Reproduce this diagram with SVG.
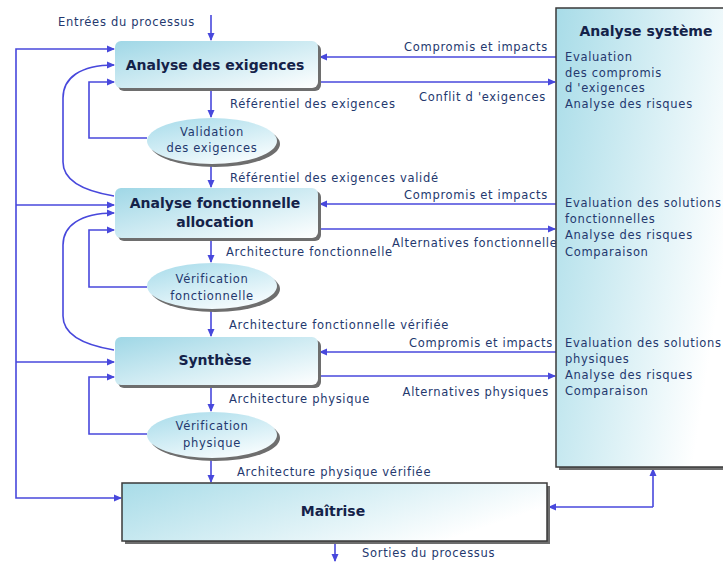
<svg xmlns="http://www.w3.org/2000/svg" width="723" height="562" viewBox="0 0 723 562">
<style>
.t{font-family:"DejaVu Sans","Liberation Sans",sans-serif;font-size:11.5px;letter-spacing:0.7px;fill:#24386e}
.h{font-family:"DejaVu Sans","Liberation Sans",sans-serif;font-size:14px;font-weight:bold;fill:#142249}
.c{fill:none;stroke:#4848dc;stroke-width:1.6}
.box{fill:url(#gb)}
.sh{fill:#6e6e6e}
</style>
<defs>
<linearGradient id="gb" x1="0" y1="0" x2="1" y2="1">
<stop offset="0" stop-color="#9fd7e6"/>
<stop offset="1" stop-color="#ffffff"/>
</linearGradient>
<linearGradient id="ge" x1="0" y1="0" x2="0.6" y2="1">
<stop offset="0" stop-color="#a6dbea"/>
<stop offset="1" stop-color="#f4fbfd"/>
</linearGradient>
<linearGradient id="gs" x1="0" y1="0" x2="1" y2="0.4">
<stop offset="0" stop-color="#a8dce8"/>
<stop offset="1" stop-color="#ffffff"/>
</linearGradient>
<marker id="a" markerWidth="8" markerHeight="8" refX="7" refY="4" orient="auto" markerUnits="userSpaceOnUse">
<path d="M0,0.5 L8,4 L0,7.5 Z" fill="#4848dc"/>
</marker>
</defs>

<g id="connectors">
<path class="c" d="M211,15 V40" marker-end="url(#a)"/>
<path class="c" d="M211,89 V117" marker-end="url(#a)"/>
<path class="c" d="M211,164 V187" marker-end="url(#a)"/>
<path class="c" d="M211,239 V262" marker-end="url(#a)"/>
<path class="c" d="M211,310 V336" marker-end="url(#a)"/>
<path class="c" d="M211,386 V411" marker-end="url(#a)"/>
<path class="c" d="M211,458 V482" marker-end="url(#a)"/>
<path class="c" d="M335,542 V561" marker-end="url(#a)"/>
<path class="c" d="M147,138 H89 V82 H114" marker-end="url(#a)"/>
<path class="c" d="M147,287 H89 V230 H114" marker-end="url(#a)"/>
<path class="c" d="M147,434 H89 V377 H114" marker-end="url(#a)"/>
<path class="c" d="M16,300 V49 H114" marker-end="url(#a)"/>
<path class="c" d="M16,300 V498 H121" marker-end="url(#a)"/>
<path class="c" d="M16,205 H114" marker-end="url(#a)"/>
<path class="c" d="M16,362 H114" marker-end="url(#a)"/>
<path class="c" d="M114,196 C78,190 63,178 63,162 V98 C63,78 80,65 114,65" marker-end="url(#a)"/>
<path class="c" d="M114,350 C78,344 63,332 63,316 V245 C63,226 80,213 114,213" marker-end="url(#a)"/>
<path class="c" d="M556,57 H320" marker-end="url(#a)"/>
<path class="c" d="M319,82 H555" marker-end="url(#a)"/>
<path class="c" d="M556,204 H320" marker-end="url(#a)"/>
<path class="c" d="M319,229 H555" marker-end="url(#a)"/>
<path class="c" d="M556,352 H320" marker-end="url(#a)"/>
<path class="c" d="M319,376 H555" marker-end="url(#a)"/>
<path class="c" d="M653,507 V469" marker-end="url(#a)"/>
<path class="c" d="M653,507 H549" marker-end="url(#a)"/>
</g>

<g id="labels">
<text class="t" x="58" y="26">Entrées du processus</text>
<text class="t" x="230" y="108">Référentiel des exigences</text>
<text class="t" x="230" y="182">Référentiel des exigences validé</text>
<text class="t" x="226" y="256">Architecture fonctionnelle</text>
<text class="t" x="229" y="329">Architecture fonctionnelle vérifiée</text>
<text class="t" x="229" y="403">Architecture physique</text>
<text class="t" x="237" y="476">Architecture physique vérifiée</text>
<text class="t" x="362" y="557">Sorties du processus</text>
<text class="t" x="548" y="51" text-anchor="end">Compromis et impacts</text>
<text class="t" x="546" y="101" text-anchor="end">Conflit d 'exigences</text>
<text class="t" x="548" y="199" text-anchor="end">Compromis et impacts</text>
<text class="t" x="392" y="247">Alternatives fonctionnelles</text>
<text class="t" x="553" y="347" text-anchor="end">Compromis et impacts</text>
<text class="t" x="549" y="396" text-anchor="end">Alternatives physiques</text>
</g>

<g id="analyse-exigences">
<rect class="sh" x="118" y="44" width="203" height="47" rx="6"/>
<rect class="box" x="115" y="41" width="203" height="47" rx="6"/>
<text class="h" x="215" y="70" text-anchor="middle">Analyse des exigences</text>
</g>

<g id="validation">
<ellipse cx="215" cy="144" rx="65" ry="23" fill="#6e6e6e"/>
<ellipse cx="212" cy="141" rx="65" ry="23" fill="url(#ge)"/>
<text class="t" x="212" y="136" text-anchor="middle">Validation</text>
<text class="t" x="212" y="152" text-anchor="middle">des exigences</text>
</g>

<g id="analyse-fonctionnelle">
<rect class="sh" x="118" y="191" width="203" height="50" rx="6"/>
<rect class="box" x="115" y="188" width="203" height="50" rx="6"/>
<text class="h" x="215" y="208" text-anchor="middle">Analyse fonctionnelle</text>
<text class="h" x="215" y="227" text-anchor="middle">allocation</text>
</g>

<g id="verification-fonctionnelle">
<ellipse cx="215" cy="289" rx="65" ry="23" fill="#6e6e6e"/>
<ellipse cx="212" cy="286" rx="65" ry="23" fill="url(#ge)"/>
<text class="t" x="212" y="283" text-anchor="middle">Vérification</text>
<text class="t" x="212" y="300" text-anchor="middle">fonctionnelle</text>
</g>

<g id="synthese">
<rect class="sh" x="118" y="340" width="203" height="48" rx="6"/>
<rect class="box" x="115" y="337" width="203" height="48" rx="6"/>
<text class="h" x="215" y="365" text-anchor="middle">Synthèse</text>
</g>

<g id="verification-physique">
<ellipse cx="215" cy="438" rx="65" ry="23" fill="#6e6e6e"/>
<ellipse cx="212" cy="435" rx="65" ry="23" fill="url(#ge)"/>
<text class="t" x="212" y="430" text-anchor="middle">Vérification</text>
<text class="t" x="212" y="447" text-anchor="middle">physique</text>
</g>

<g id="maitrise">
<rect class="sh" x="125" y="486" width="425" height="58"/>
<rect x="122" y="483" width="425" height="58" fill="url(#gs)" stroke="#3a3a3a" stroke-width="1.5"/>
<text class="h" x="333" y="516" text-anchor="middle">Maîtrise</text>
</g>

<g id="analyse-systeme">
<rect class="sh" x="559" y="11" width="180" height="459"/>
<rect x="556" y="8" width="180" height="459" fill="url(#gs)" stroke="#3a3a3a" stroke-width="1.5"/>
<text class="h" x="646" y="36" text-anchor="middle">Analyse système</text>
<text class="t" x="565" y="61">Evaluation</text>
<text class="t" x="565" y="77">des compromis</text>
<text class="t" x="565" y="92">d 'exigences</text>
<text class="t" x="565" y="108">Analyse des risques</text>
<text class="t" x="565" y="207">Evaluation des solutions</text>
<text class="t" x="565" y="223">fonctionnelles</text>
<text class="t" x="565" y="239">Analyse des risques</text>
<text class="t" x="565" y="256">Comparaison</text>
<text class="t" x="565" y="347">Evaluation des solutions</text>
<text class="t" x="565" y="363">physiques</text>
<text class="t" x="565" y="379">Analyse des risques</text>
<text class="t" x="565" y="395">Comparaison</text>
</g>
</svg>
